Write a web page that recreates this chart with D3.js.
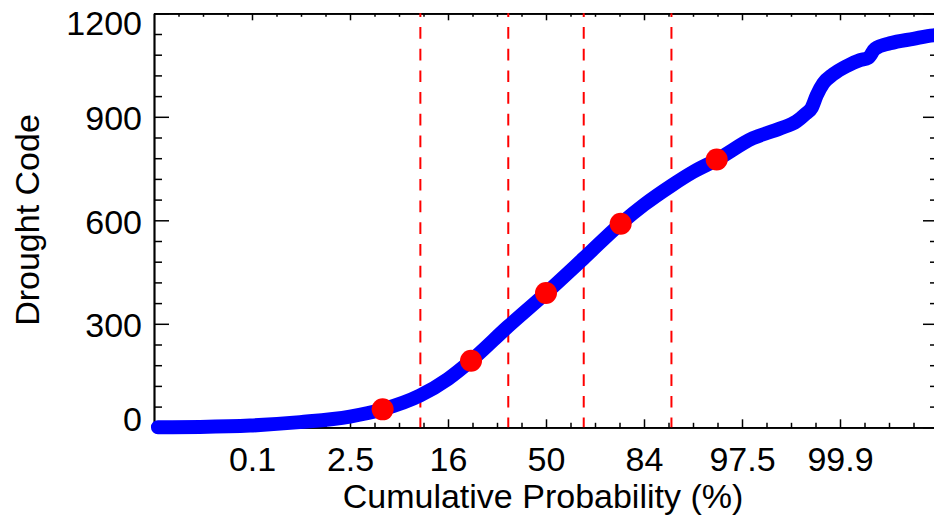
<!DOCTYPE html>
<html>
<head>
<meta charset="utf-8">
<script src="https://cdn.jsdelivr.net/npm/d3@7"></script>
<style>
  body { margin: 0; background: #fff; }
  svg { display: block; font-family: "Liberation Sans", Arial, sans-serif; }
</style>
</head>
<body>
<div id="chart"></div>
<script>
// curve: standard normal quantile (z) vs drought code
var curveZ    = [-3.96, -3.53, -3.02, -2.51, -2.0, -1.667, -1.286, -1.0, -0.765, -0.388, 0.0, 0.385, 0.762, 1.0, 1.276, 1.5, 1.745, 2.112, 2.388, 2.558, 2.643, 2.711, 2.762, 2.83, 2.93, 3.068, 3.204, 3.289, 3.357, 3.51, 3.748, 3.952, 4.0];
var curveCode = [0, 1, 5, 15, 31, 52, 92, 140, 193, 292, 389, 490, 590, 645, 700, 740, 776, 838, 866, 887, 907, 926, 962, 997, 1023, 1047, 1064, 1071, 1097, 1113, 1126, 1136, 1137];

// red markers
var dotZ    = [-1.667, -0.765, 0.0, 0.762, 1.742];
var dotCode = [52, 193, 389, 590, 776];

// dashed class limits (z)
var limitZ = [-1.282, -0.385, 0.385, 1.28];

// axis ticks
var xTickZ      = [-3, -2, -1, 0, 1, 2, 3];
var xTickLabels = ["0.1", "2.5", "16", "50", "84", "97.5", "99.9"];
var yTicks      = [0, 300, 600, 900, 1200];

var W = 934, H = 519;
var margin = {top: 13.3, left: 154},
    width = 784,
    height = 414;
var fontSize = 34;

var svg = d3.select("#chart").append("svg")
    .attr("width", W)
    .attr("height", H);

var g = svg.append("g")
    .attr("transform", "translate(" + margin.left + "," + margin.top + ")");

var x = d3.scaleLinear().domain([-4, 4]).range([0, width]);
var y = d3.scaleLinear().domain([0, 1200]).range([height, 0]);

var xMinor = d3.range(-4, 4.001, 0.25).filter(function(d) { return d % 1 !== 0; });
var yMinor = d3.range(0, 1201, 60).filter(function(d) { return d % 300 !== 0; });

function styleAxis(sel) {
    sel.select(".domain").attr("stroke", "#000").attr("stroke-width", 1.7);
    sel.selectAll(".tick line").attr("stroke", "#000").attr("stroke-width", 1.5);
}

// bottom axis
var gX = g.append("g").attr("transform", "translate(0," + height + ")")
    .call(d3.axisBottom(x).tickValues(xTickZ)
        .tickFormat(function(d, i) { return xTickLabels[i]; })
        .tickSizeInner(-8).tickSizeOuter(0));
g.append("g").attr("transform", "translate(0," + height + ")")
    .call(d3.axisBottom(x).tickValues(xMinor).tickFormat("").tickSizeInner(-4.5).tickSizeOuter(0))
    .call(styleAxis);
styleAxis(gX);
gX.selectAll(".tick text")
    .attr("y", 44).attr("dy", null)
    .attr("font-size", fontSize).attr("font-family", "Liberation Sans, Arial, sans-serif")
    .attr("fill", "#000");

// top axis (mirror, no labels)
g.append("g")
    .call(d3.axisTop(x).tickValues(xTickZ).tickFormat("").tickSizeInner(-7).tickSizeOuter(0))
    .call(styleAxis);
g.append("g")
    .call(d3.axisTop(x).tickValues(xMinor).tickFormat("").tickSizeInner(-3.5).tickSizeOuter(0))
    .call(styleAxis);

// left axis
var gY = g.append("g")
    .call(d3.axisLeft(y).tickValues(yTicks).tickFormat(d3.format("d"))
        .tickSizeInner(-15).tickSizeOuter(0));
g.append("g")
    .call(d3.axisLeft(y).tickValues(yMinor).tickFormat("").tickSizeInner(-8).tickSizeOuter(0))
    .call(styleAxis);
styleAxis(gY);
gY.selectAll(".tick text")
    .attr("x", -12)
    .attr("dy", function(d) { return d === 1200 ? "0.62em" : (d === 0 ? "0.09em" : "0.38em"); })
    .attr("font-size", fontSize).attr("font-family", "Liberation Sans, Arial, sans-serif")
    .attr("fill", "#000");

// right axis (mirror)
g.append("g").attr("transform", "translate(" + width + ",0)")
    .call(d3.axisRight(y).tickValues(yTicks).tickFormat("").tickSizeInner(-15).tickSizeOuter(0))
    .call(styleAxis);
g.append("g").attr("transform", "translate(" + width + ",0)")
    .call(d3.axisRight(y).tickValues(yMinor).tickFormat("").tickSizeInner(-8).tickSizeOuter(0))
    .call(styleAxis);

// dashed limits
g.selectAll(".limit")
    .data(limitZ)
    .enter().append("line")
    .attr("class", "limit")
    .attr("x1", function(d) { return x(d); })
    .attr("x2", function(d) { return x(d); })
    .attr("y1", 0)
    .attr("y2", height)
    .attr("stroke", "#ff0000")
    .attr("stroke-width", 2)
    .attr("stroke-dasharray", "11.7,10")
    .attr("stroke-dashoffset", 8);

// curve
var curveData = curveZ.map(function(z, i) { return {z: z, v: curveCode[i]}; });
g.append("path")
    .datum(curveData)
    .attr("d", d3.line()
        .x(function(d) { return x(d.z); })
        .y(function(d) { return y(d.v); })
        .curve(d3.curveMonotoneX))
    .attr("fill", "none")
    .attr("stroke", "#0000ff")
    .attr("stroke-width", 14)
    .attr("stroke-linecap", "round")
    .attr("stroke-linejoin", "round");

// markers
g.selectAll(".dot")
    .data(dotZ)
    .enter().append("circle")
    .attr("class", "dot")
    .attr("cx", function(d) { return x(d); })
    .attr("cy", function(d, i) { return y(dotCode[i]); })
    .attr("r", 11)
    .attr("fill", "#ff0000");

// axis titles
svg.append("text")
    .attr("x", 543)
    .attr("y", 508)
    .attr("text-anchor", "middle")
    .attr("font-size", fontSize)
    .text("Cumulative Probability (%)");

svg.append("text")
    .attr("transform", "translate(39,220) rotate(-90)")
    .attr("text-anchor", "middle")
    .attr("font-size", fontSize)
    .text("Drought Code");
</script>
</body>
</html>
